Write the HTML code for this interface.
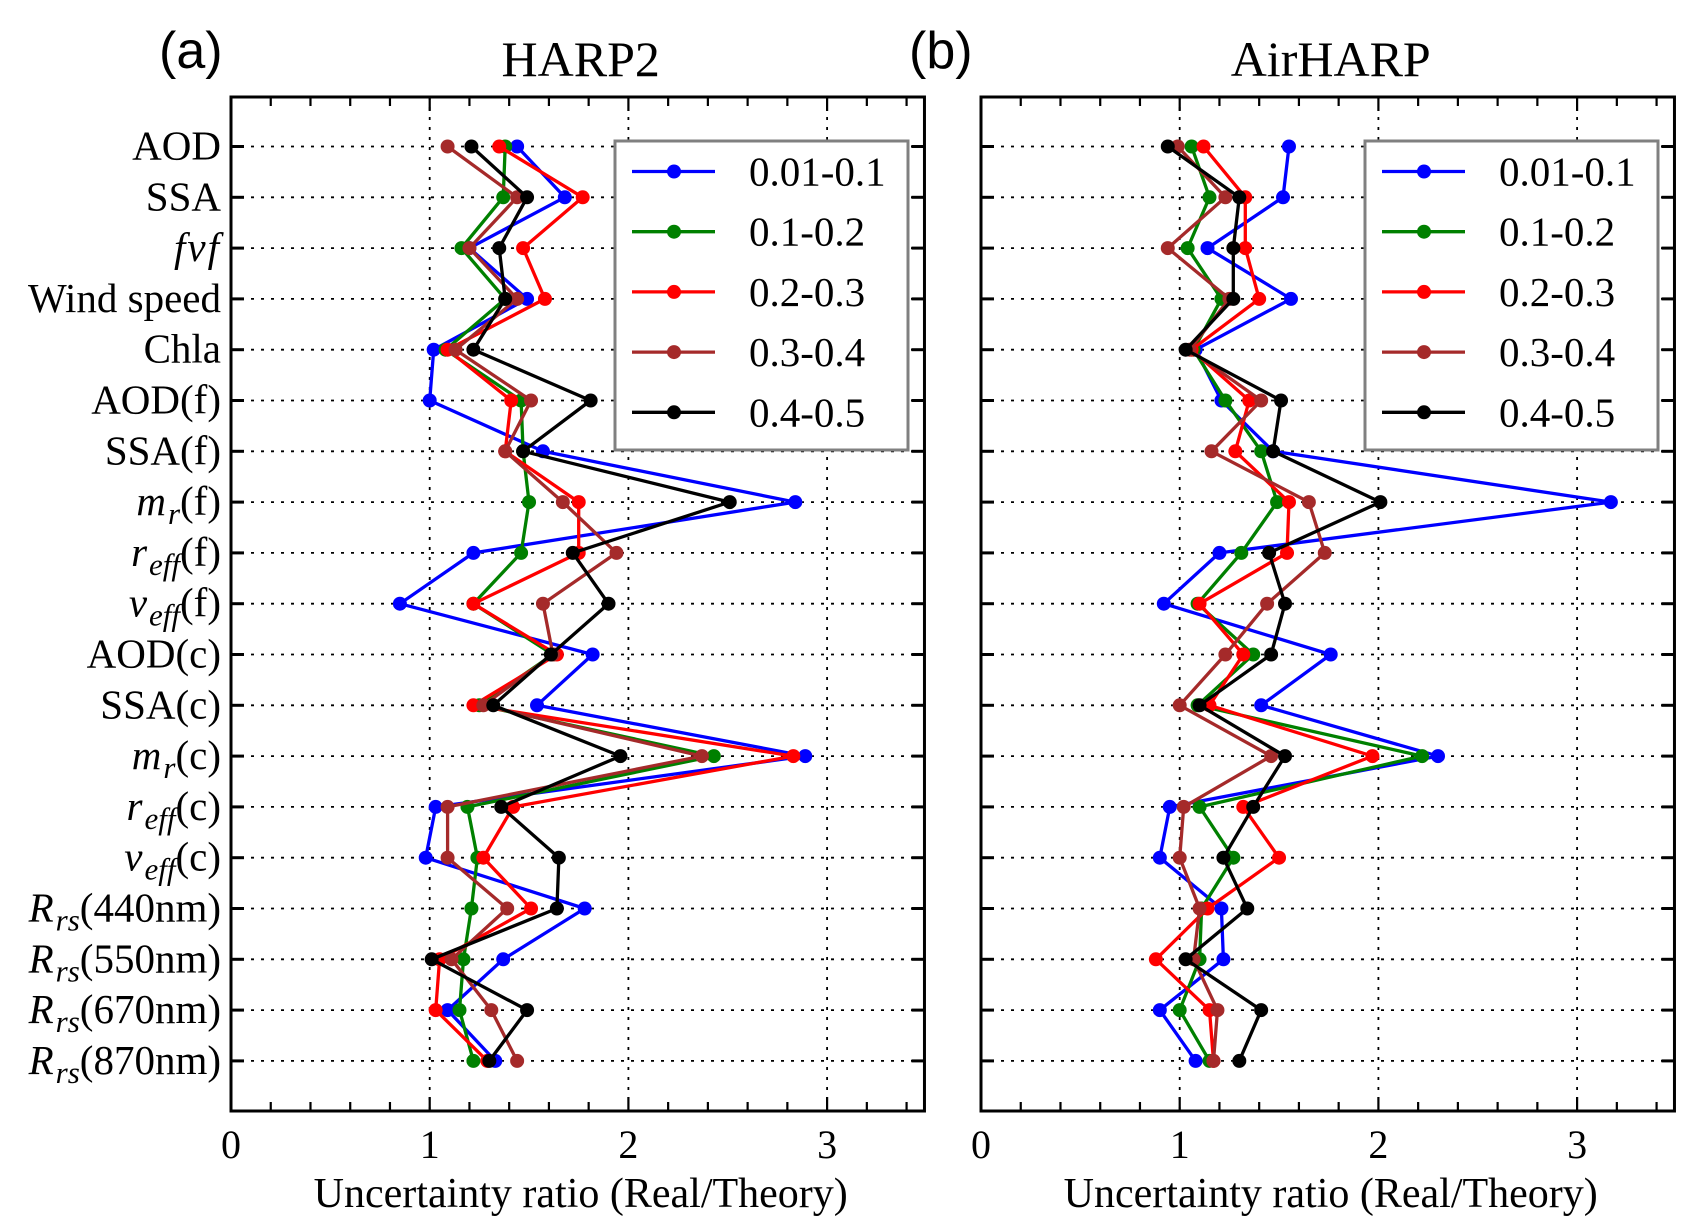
<!DOCTYPE html>
<html><head><meta charset="utf-8"><style>
html,body{margin:0;padding:0;background:#fff}
svg{display:block}
text{font-family:"Liberation Serif",serif;fill:#000}
</style></head><body>
<svg id="chart" xmlns="http://www.w3.org/2000/svg" width="1693" height="1226" viewBox="0 0 1693 1226">
<g id="root"></g>
</svg>
<script>
const categories = ["AOD","SSA","fvf","Wind speed","Chla","AOD(f)","SSA(f)","mr(f)","reff(f)","veff(f)","AOD(c)","SSA(c)","mr(c)","reff(c)","veff(c)","Rrs440","Rrs550","Rrs670","Rrs870"];
const seriesNames = ["0.01-0.1","0.1-0.2","0.2-0.3","0.3-0.4","0.4-0.5"];
const seriesColors = ["#0000ff","#008000","#ff0000","#a52a2a","#000000"];
const xTicks = [0,1,2,3];
const harp2Blue  = [1.44,1.68,1.20,1.49,1.02,1.00,1.57,2.84,1.22,0.85,1.82,1.54,2.89,1.03,0.98,1.78,1.37,1.09,1.33];
const harp2Green = [1.38,1.37,1.16,1.38,1.08,1.46,1.47,1.50,1.46,1.22,1.62,1.25,2.43,1.19,1.24,1.21,1.17,1.15,1.22];
const harp2Red   = [1.35,1.77,1.47,1.58,1.09,1.41,1.38,1.75,1.75,1.22,1.64,1.22,2.83,1.42,1.27,1.51,1.05,1.03,1.29];
const harp2Brown = [1.09,1.44,1.20,1.44,1.13,1.51,1.38,1.67,1.94,1.57,1.62,1.27,2.37,1.09,1.09,1.39,1.11,1.31,1.44];
const harp2Black = [1.21,1.49,1.35,1.38,1.22,1.81,1.47,2.51,1.72,1.90,1.61,1.32,1.96,1.36,1.65,1.64,1.01,1.49,1.30];
const airBlue  = [1.55,1.52,1.14,1.56,1.08,1.21,1.47,3.17,1.20,0.92,1.76,1.41,2.30,0.95,0.90,1.21,1.22,0.90,1.08];
const airGreen = [1.06,1.15,1.04,1.21,1.07,1.23,1.41,1.49,1.31,1.09,1.37,1.09,2.22,1.10,1.27,1.11,1.10,1.00,1.15];
const airRed   = [1.12,1.33,1.33,1.40,1.06,1.35,1.28,1.55,1.54,1.10,1.32,1.15,1.97,1.32,1.50,1.14,0.88,1.15,1.17];
const airBrown = [0.99,1.23,0.94,1.25,1.05,1.41,1.16,1.65,1.73,1.44,1.23,1.00,1.46,1.02,1.00,1.10,1.07,1.19,1.17];
const airBlack = [0.94,1.30,1.27,1.27,1.03,1.51,1.47,2.01,1.45,1.53,1.46,1.10,1.53,1.37,1.22,1.34,1.03,1.41,1.30];

const NS="http://www.w3.org/2000/svg";
const root=document.getElementById('root');
function mk(tag,attrs,parent){const e=document.createElementNS(NS,tag);for(const k in attrs)e.setAttribute(k,attrs[k]);(parent||root).appendChild(e);return e;}

const TOP=97, BOT=1111, ROW0=146.5, ROWSTEP=50.8, UNIT=198.7, XMAX=3.49;
function yRow(i){return ROW0+i*ROWSTEP;}

function labelFor(t,cat){
  const m={
    "fvf":[["fvf","italic",0]],
    "mr(f)":[["m","italic",0],["r","italic",1],["(f)","",0]],
    "reff(f)":[["r","italic",0],["eff","italic",1],["(f)","",0]],
    "veff(f)":[["v","italic",0],["eff","italic",1],["(f)","",0]],
    "mr(c)":[["m","italic",0],["r","italic",1],["(c)","",0]],
    "reff(c)":[["r","italic",0],["eff","italic",1],["(c)","",0]],
    "veff(c)":[["v","italic",0],["eff","italic",1],["(c)","",0]],
    "Rrs440":[["R","italic",0],["rs","italic",1],["(440nm)","",0]],
    "Rrs550":[["R","italic",0],["rs","italic",1],["(550nm)","",0]],
    "Rrs670":[["R","italic",0],["rs","italic",1],["(670nm)","",0]],
    "Rrs870":[["R","italic",0],["rs","italic",1],["(870nm)","",0]]
  };
  const parts=m[cat]||[[cat,"",0]];
  let prevSub=false;
  parts.forEach(p=>{
    const ts=document.createElementNS(NS,'tspan');
    ts.textContent=p[0];
    if(p[1])ts.setAttribute('font-style','italic');
    if(p[1]&&!p[2])ts.setAttribute('letter-spacing','2');
    if(p[2]){ts.setAttribute('dy','9');ts.setAttribute('font-size','31');prevSub=true;}
    else if(prevSub){ts.setAttribute('dy','-9');prevSub=false;}
    t.appendChild(ts);
  });
}

function panel(x0,title,tag,data,showY){
  const g=mk('g',{});
  
  
  const xs=v=>x0+v*UNIT, W=XMAX*UNIT;
  xTicks.slice(1).forEach(v=>{
    const l=mk('line',{x1:xs(v),x2:xs(v),y1:TOP,y2:BOT,stroke:'#000','stroke-width':1.8,'stroke-dasharray':'3,7'},g);
    
    
  });
  categories.forEach((c,i)=>{
    const l=mk('line',{x1:x0,x2:x0+W,y1:yRow(i),y2:yRow(i),stroke:'#000','stroke-width':1.8,'stroke-dasharray':'3,7'},g);
    
    
    mk('line',{x1:x0,x2:x0+13,y1:yRow(i),y2:yRow(i),stroke:'#000','stroke-width':3},g);
    mk('line',{x1:x0+W-13,x2:x0+W,y1:yRow(i),y2:yRow(i),stroke:'#000','stroke-width':3},g);
    if(showY){
      const t=mk('text',{x:221,y:yRow(i)+13,'text-anchor':'end','font-size':41},g);
      
      
      labelFor(t,c);
    }
  });
  for(let k=1;k*0.2<XMAX;k++){
    const v=k*0.2, len=(k%5===0)?14:9;
    mk('line',{x1:xs(v),x2:xs(v),y1:TOP,y2:TOP+len,stroke:'#000','stroke-width':2.2},g);
    mk('line',{x1:xs(v),x2:xs(v),y1:BOT,y2:BOT-len,stroke:'#000','stroke-width':2.2},g);
  }
  const f=mk('rect',{x:x0,y:TOP,width:W,height:BOT-TOP,fill:'none',stroke:'#000','stroke-width':3},g);
  
  
  xTicks.forEach(v=>{
    const t=mk('text',{x:xs(v),y:1158,'text-anchor':'middle','font-size':40},g);
    t.textContent=String(v);
    
    
  });
  const xl=mk('text',{x:x0+W/2+3,y:1207,'text-anchor':'middle','font-size':42},g);
  xl.textContent='Uncertainty ratio (Real/Theory)';
  
  
  const tt=mk('text',{x:x0+W/2+3,y:76,'text-anchor':'middle','font-size':50},g);
  tt.textContent=title;
  
  
  const tg=mk('text',{x:x0-72,y:68,'font-size':52,style:'font-family:"Liberation Sans",sans-serif'},g);
  tg.textContent=tag;
  
  
  data.forEach((vals,s)=>{
    const sg=mk('g',{},g);
    
    
    const pts=vals.map((v,i)=>xs(v).toFixed(1)+','+yRow(i).toFixed(1)).join(' ');
    mk('polyline',{points:pts,fill:'none',stroke:seriesColors[s],'stroke-width':3.3,'stroke-linejoin':'round'},sg);
    vals.forEach((v,i)=>{
      const c=mk('circle',{cx:xs(v),cy:yRow(i),r:7,fill:seriesColors[s]},sg);
      
      
    });
  });
  const lg=mk('g',{},g);
  
  
  mk('rect',{x:x0+384,y:141,width:293,height:309,fill:'#fff',stroke:'#808080','stroke-width':3},lg);
  seriesNames.forEach((n,s)=>{
    const y=171.5+s*60.2;
    const e=mk('g',{},lg);
    
    
    mk('line',{x1:x0+401,x2:x0+484,y1:y,y2:y,stroke:seriesColors[s],'stroke-width':3.3},e);
    mk('circle',{cx:x0+443,cy:y,r:7,fill:seriesColors[s]},e);
    const t=mk('text',{x:x0+518,y:y+14,'font-size':41},e);
    t.textContent=n;
  });
}
panel(231,'HARP2','(a)',[harp2Blue,harp2Green,harp2Red,harp2Brown,harp2Black],true);
panel(981,'AirHARP','(b)',[airBlue,airGreen,airRed,airBrown,airBlack],false);
</script>
</body></html>
